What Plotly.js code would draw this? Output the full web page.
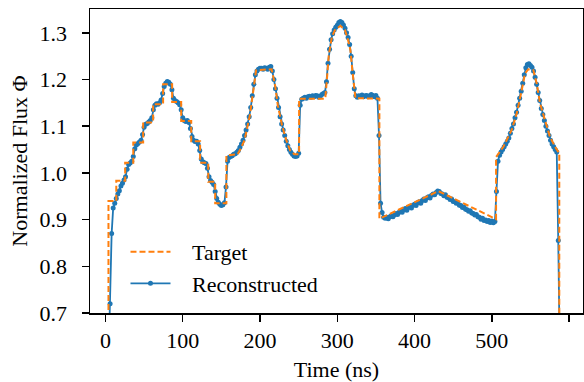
<!DOCTYPE html>
<html>
<head>
<meta charset="utf-8">
<script src="https://cdn.plot.ly/plotly-3.0.1.min.js"></script>
<style>html,body{margin:0;padding:0;background:#fff}#chart{width:584px;height:382px}</style>
</head>
<body>
<div id="chart"></div>
<script>
// Target flux (step-like) breakpoints
const targetTime = [0, 3.9, 3.9, 14, 14, 25.5, 25.5, 36, 36, 48.8,
  48.8, 61.7, 61.7, 74.6, 74.6, 86.3, 86.3, 98, 98, 111,
  111, 122.5, 122.5, 133, 133, 142, 142, 156.5, 156.5, 171,
  175, 180, 187, 191, 195, 215, 219.5, 223, 228.5, 234,
  239, 244.5, 250.6, 250.6, 284.5, 287, 289, 293, 297, 304,
  310, 314, 317, 319.5, 322, 323.5, 354.5, 354.5, 430.8, 505.5,
  505.5, 510.6, 514.9, 525.7, 532.2, 538.7, 543, 547.2, 553.7, 558,
  562.4, 568.8, 575.3, 581.8, 587.3, 587.3, 595];
const targetFlux = [0, 0, 0.94, 0.94, 0.983, 0.983, 1.022, 1.022, 1.065, 1.065,
  1.108, 1.108, 1.147, 1.147, 1.19, 1.19, 1.152, 1.152, 1.111, 1.111,
  1.068, 1.068, 1.022, 1.022, 0.981, 0.981, 0.935, 0.935, 1.037, 1.04,
  1.052, 1.07, 1.124, 1.177, 1.22, 1.222, 1.188, 1.145, 1.102, 1.07,
  1.048, 1.04, 1.04, 1.159, 1.159, 1.209, 1.252, 1.291, 1.306, 1.315,
  1.306, 1.284, 1.263, 1.22, 1.177, 1.16, 1.159, 0.902, 0.961, 0.901,
  1.034, 1.045, 1.056, 1.092, 1.127, 1.177, 1.213, 1.222, 1.22, 1.192,
  1.149, 1.113, 1.077, 1.056, 1.042, 0, 0];

// Reconstructed flux sampled every 2 ns starting at 4 ns
const reconStart = 4;
const reconStep = 2;
const reconFlux = [
  0.60, 0.72, 0.87, 0.925, 0.935, 0.945, 0.955, 0.962, 0.972, 0.978,
  0.985, 0.992, 1.008, 1.018, 1.021, 1.025, 1.035, 1.052, 1.060, 1.063,
  1.066, 1.070, 1.082, 1.098, 1.104, 1.106, 1.109, 1.112, 1.118, 1.135,
  1.145, 1.148, 1.147, 1.150, 1.156, 1.170, 1.185, 1.192, 1.196, 1.194,
  1.190, 1.178, 1.160, 1.155, 1.153, 1.150, 1.146, 1.135, 1.118, 1.112,
  1.110, 1.112, 1.108, 1.095, 1.078, 1.070, 1.067, 1.068, 1.062, 1.048,
  1.030, 1.024, 1.022, 1.020, 1.010, 0.992, 0.984, 0.980, 0.975, 0.960,
  0.945, 0.937, 0.933, 0.930, 0.932, 0.936, 0.970, 1.025, 1.033, 1.035,
  1.037, 1.040, 1.041, 1.044, 1.048, 1.055, 1.062, 1.070, 1.080, 1.092,
  1.105, 1.120, 1.140, 1.165, 1.190, 1.210, 1.218, 1.222, 1.224, 1.224,
  1.222, 1.225, 1.224, 1.222, 1.226, 1.228, 1.218, 1.200, 1.180, 1.160,
  1.140, 1.120, 1.105, 1.092, 1.080, 1.068, 1.058, 1.050, 1.044, 1.040,
  1.036, 1.035, 1.036, 1.042, 1.145, 1.158, 1.160, 1.162, 1.160, 1.163,
  1.164, 1.162, 1.165, 1.163, 1.166, 1.165, 1.162, 1.164, 1.168, 1.170,
  1.172, 1.195, 1.235, 1.265, 1.285, 1.298, 1.306, 1.312, 1.316, 1.322,
  1.324, 1.322, 1.317, 1.310, 1.300, 1.290, 1.275, 1.250, 1.215, 1.180,
  1.165, 1.162, 1.165, 1.164, 1.167, 1.163, 1.165, 1.166, 1.163, 1.165,
  1.168, 1.166, 1.163, 1.166, 1.160, 1.080, 0.935, 0.915, 0.905, 0.903,
  0.905, 0.902, 0.906, 0.908, 0.906, 0.910, 0.913, 0.911, 0.916, 0.918,
  0.916, 0.921, 0.924, 0.920, 0.926, 0.928, 0.925, 0.931, 0.933, 0.930,
  0.936, 0.938, 0.935, 0.941, 0.944, 0.941, 0.947, 0.949, 0.946, 0.952,
  0.955, 0.953, 0.958, 0.961, 0.960, 0.956, 0.955, 0.951, 0.953, 0.948,
  0.947, 0.943, 0.944, 0.939, 0.938, 0.935, 0.936, 0.931, 0.930, 0.926,
  0.927, 0.922, 0.921, 0.918, 0.919, 0.914, 0.913, 0.910, 0.911, 0.906,
  0.905, 0.901, 0.903, 0.898, 0.899, 0.896, 0.898, 0.894, 0.897, 0.893,
  0.896, 0.960, 1.025, 1.038, 1.045, 1.050, 1.056, 1.062, 1.068, 1.075,
  1.085, 1.095, 1.105, 1.118, 1.130, 1.145, 1.160, 1.175, 1.192, 1.210,
  1.225, 1.232, 1.234, 1.230, 1.226, 1.218, 1.205, 1.190, 1.172, 1.155,
  1.138, 1.125, 1.112, 1.100, 1.090, 1.080, 1.070, 1.062, 1.056, 1.050,
  1.045, 0.855, 0.60];
const reconTime = reconFlux.map((_, i) => reconStart + i * reconStep);

const xTicks = [0, 100, 200, 300, 400, 500, 600];
const yTicks = [0.7, 0.8, 0.9, 1.0, 1.1, 1.2, 1.3];

const FONT = 'Liberation Serif, Times New Roman, serif';
const FS = 22;

const traces = [
  {
    x: reconTime, y: reconFlux, name: '\u00a0\u00a0\u00a0Reconstructed', type: 'scatter', mode: 'lines+markers',
    line: {color: '#1f77b4', width: 1.8}, marker: {color: '#1f77b4', size: 5},
    legendrank: 2
  },
  {
    x: targetTime, y: targetFlux, name: '\u00a0\u00a0\u00a0Target', type: 'scatter', mode: 'lines',
    line: {color: '#ff7f0e', width: 2, dash: '6px,3px'},
    legendrank: 1
  }
];

const axisCommon = {
  showline: true, linecolor: 'black', linewidth: 1.5, mirror: true,
  ticks: 'outside', ticklen: 7, tickwidth: 1.5, tickcolor: 'black',
  showgrid: false, zeroline: false,
  tickfont: {family: FONT, size: FS, color: 'black'}
};

const layout = {
  width: 584, height: 382,
  margin: {l: 90, r: 1, t: 9, b: 69},
  paper_bgcolor: 'white', plot_bgcolor: 'white',
  font: {family: FONT, size: FS, color: 'black'},
  showlegend: true,
  legend: {
    x: 0.072, y: 0.27, xanchor: 'left', yanchor: 'top',
    bgcolor: 'rgba(0,0,0,0)', borderwidth: 0,
    font: {family: FONT, size: FS, color: 'black'},
    itemwidth: 40, tracegroupgap: 0
  },
  xaxis: Object.assign({}, axisCommon, {
    range: [-20, 618], tickvals: xTicks, ticktext: xTicks.map(String),
    title: {text: 'Time (ns)', font: {family: FONT, size: FS, color: 'black'}, standoff: 12}
  }),
  yaxis: Object.assign({}, axisCommon, {
    range: [0.7, 1.351], tickvals: yTicks, ticktext: yTicks.map(v => v.toFixed(1)),
    ticklabelstandoff: 10,
    title: {text: 'Normalized Flux Φ', font: {family: FONT, size: FS, color: 'black'}, standoff: 6}
  })
};

Plotly.newPlot('chart', traces, layout, {staticPlot: true, displayModeBar: false});
</script>
</body>
</html>
